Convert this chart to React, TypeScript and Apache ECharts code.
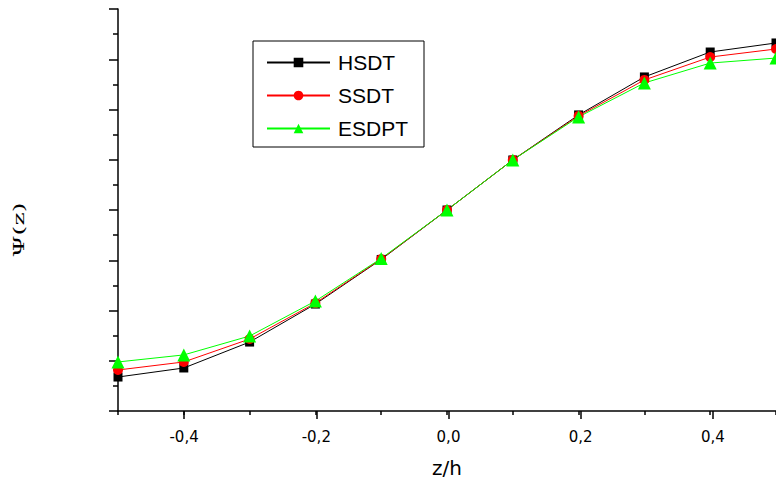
import React, { useEffect, useRef } from "react";
import * as echarts from "echarts";

const zh = [-0.5, -0.4, -0.3, -0.2, -0.1, 0.0, 0.1, 0.2, 0.3, 0.4, 0.5];
const hsdt = [-0.831, -0.786, -0.657, -0.468, -0.246, 0, 0.249, 0.473, 0.662, 0.786, 0.831];
const ssdt = [-0.796, -0.756, -0.642, -0.463, -0.244, 0, 0.249, 0.468, 0.647, 0.761, 0.801];
const esdpt = [-0.756, -0.721, -0.627, -0.453, -0.241, 0, 0.249, 0.463, 0.632, 0.731, 0.756];
const seriesNames = ["HSDT", "SSDT", "ESDPT"];
const xTitle = "z/h";
const yTitle = "Ψ(z)";

export default function App() {
  const ref = useRef<HTMLDivElement>(null);
  useEffect(() => {
    if (!ref.current) return;
    const chart = echarts.init(ref.current, null, { renderer: "svg" });
    const pair = (ys: number[]) => zh.map((x, i) => [x, ys[i]]);
    const unit = 661 / 10;
    const mk = (name: string, data: number[], color: string, symbol: string, size: number) => ({
      name,
      type: "line",
      xAxisIndex: 0,
      yAxisIndex: 0,
      data: pair(data),
      symbol,
      symbolSize: size,
      showSymbol: true,
      lineStyle: { color, width: 1 },
      itemStyle: { color },
    });
    chart.setOption({
      animation: false,
      backgroundColor: "#ffffff",
      grid: [
        { left: 118, right: -3, top: 9, bottom: 73 },
        { left: 118 + unit, right: -3 + unit, top: 9, bottom: 73 },
      ],
      xAxis: [
        {
          type: "value",
          gridIndex: 0,
          min: -0.5,
          max: 0.5,
          interval: 0.1,
          axisLine: { show: true, onZero: false, lineStyle: { color: "#000", width: 1.5 } },
          axisTick: { show: true, length: 4, lineStyle: { color: "#000", width: 1.5 } },
          axisLabel: { show: false },
          splitLine: { show: false },
          name: xTitle,
          nameLocation: "middle",
          nameGap: 47,
          nameTextStyle: { fontFamily: "DejaVu Sans", fontSize: 20, color: "#000" },
        },
        {
          type: "value",
          gridIndex: 1,
          min: -0.4,
          max: 0.4,
          interval: 0.2,
          axisLine: { show: false, onZero: false },
          axisTick: { show: true, length: 8, lineStyle: { color: "#000", width: 1.5 } },
          axisLabel: {
            show: true,
            margin: 18,
            fontFamily: "DejaVu Sans",
            fontSize: 15,
            color: "#000",
            formatter: (v: number) => v.toFixed(1).replace(".", ","),
          },
          splitLine: { show: false },
        },
      ],
      yAxis: [
        {
          type: "value",
          gridIndex: 0,
          min: -1,
          max: 1,
          interval: 0.25,
          axisLine: { show: true, onZero: false, lineStyle: { color: "#000", width: 1.5 } },
          axisTick: { show: true, length: 9, lineStyle: { color: "#000", width: 1.5 } },
          minorTick: { show: true, splitNumber: 2, length: 5, lineStyle: { color: "#000", width: 1.5 } },
          axisLabel: { show: false },
          splitLine: { show: false },
        },
        {
          type: "value",
          gridIndex: 1,
          min: -1,
          max: 1,
          show: false,
          axisLine: { onZero: false },
        },
      ],
      legend: {
        orient: "vertical",
        left: 253,
        top: 41,
        padding: [11, 16, 8, 13],
        itemGap: 12,
        itemWidth: 63,
        itemHeight: 12,
        borderColor: "#000",
        borderWidth: 1,
        backgroundColor: "#fff",
        textStyle: { fontFamily: "Liberation Sans", fontSize: 21, color: "#000", padding: [0, 0, 0, 3] },
        data: seriesNames,
      },
      graphic: [
        {
          type: "text",
          x: 19,
          y: 230,
          rotation: Math.PI / 2,
          scaleX: 1.8,
          scaleY: 1,
          style: {
            text: yTitle,
            font: "14px 'DejaVu Serif', serif",
            fill: "#000",
            textAlign: "center",
            textVerticalAlign: "middle",
          },
        },
      ],
      series: [
        mk(seriesNames[0], hsdt, "#000000", "rect", 9),
        mk(seriesNames[1], ssdt, "#ff0000", "circle", 10),
        mk(seriesNames[2], esdpt, "#00ff00", "triangle", 13),
      ],
    });
    return () => chart.dispose();
  }, []);
  return (
    <div
      ref={ref}
      style={{ position: "fixed", left: 0, top: 0, width: 776, height: 484, background: "#fff" }}
    />
  );
}
